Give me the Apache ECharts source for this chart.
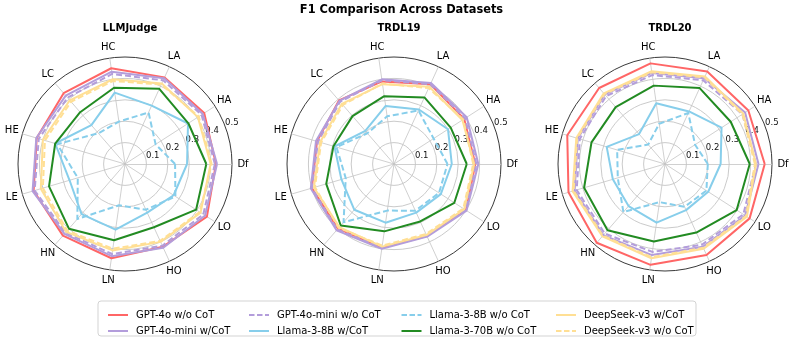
<!DOCTYPE html>
<html>
<head>
<meta charset="utf-8">
<script src="https://cdn.jsdelivr.net/npm/echarts@6/dist/echarts.min.js"></script>
<style>
  html, body { margin: 0; padding: 0; background: #fff; }
  #chart { width: 793px; height: 338px; }
</style>
</head>
<body>
<div id="chart"></div>
<script>
// axes in counter-clockwise order starting from the right (0 deg)
const categories = ['Df', 'HA', 'LA', 'HC', 'LC', 'HE', 'LE', 'HN', 'LN', 'HO', 'LO']
const models = [
  'GPT-4o w/o CoT', 'GPT-4o-mini w/CoT', 'GPT-4o-mini w/o CoT', 'Llama-3-8B w/CoT',
  'Llama-3-8B w/o CoT', 'Llama-3-70B w/o CoT', 'DeepSeek-v3 w/CoT', 'DeepSeek-v3 w/o CoT'
]
const datasets = ['LLMJudge', 'TRDL19', 'TRDL20']
const radialTicks = [0.1, 0.2, 0.3, 0.4, 0.5]

// one row per model, same order as `models`, values follow `categories`
const llmJudgeScores = [
  [0.425, 0.44, 0.445, 0.452, 0.438, 0.43, 0.445, 0.443, 0.445, 0.425, 0.455],
  [0.43, 0.432, 0.44, 0.436, 0.423, 0.432, 0.45, 0.432, 0.435, 0.43, 0.445],
  [0.42, 0.425, 0.43, 0.425, 0.41, 0.42, 0.44, 0.425, 0.425, 0.42, 0.435],
  [0.29, 0.35, 0.30, 0.337, 0.24, 0.34, 0.27, 0.31, 0.31, 0.25, 0.27],
  [0.234, 0.17, 0.265, 0.20, 0.19, 0.33, 0.23, 0.34, 0.195, 0.235, 0.28],
  [0.38, 0.352, 0.386, 0.36, 0.32, 0.34, 0.37, 0.40, 0.36, 0.325, 0.395],
  [0.40, 0.405, 0.414, 0.40, 0.394, 0.40, 0.41, 0.42, 0.408, 0.40, 0.42],
  [0.405, 0.41, 0.408, 0.392, 0.385, 0.39, 0.40, 0.412, 0.40, 0.395, 0.415]
]
const trdl19Scores = [
  [0.38, 0.39, 0.41, 0.39, 0.393, 0.375, 0.40, 0.40, 0.395, 0.37, 0.40],
  [0.394, 0.404, 0.416, 0.40, 0.39, 0.38, 0.405, 0.41, 0.40, 0.373, 0.403],
  [0.385, 0.395, 0.41, 0.395, 0.385, 0.37, 0.40, 0.405, 0.395, 0.37, 0.398],
  [0.27, 0.30, 0.28, 0.274, 0.205, 0.29, 0.256, 0.283, 0.277, 0.25, 0.26],
  [0.25, 0.22, 0.275, 0.225, 0.19, 0.28, 0.235, 0.36, 0.22, 0.24, 0.25],
  [0.34, 0.315, 0.342, 0.32, 0.296, 0.295, 0.33, 0.38, 0.318, 0.295, 0.335],
  [0.375, 0.38, 0.397, 0.377, 0.372, 0.36, 0.39, 0.39, 0.39, 0.365, 0.39],
  [0.37, 0.385, 0.39, 0.38, 0.365, 0.355, 0.385, 0.395, 0.385, 0.36, 0.385]
]
const trdl20Scores = [
  [0.466, 0.463, 0.475, 0.475, 0.47, 0.476, 0.47, 0.487, 0.476, 0.467, 0.47],
  [0.437, 0.445, 0.44, 0.43, 0.43, 0.425, 0.44, 0.44, 0.43, 0.425, 0.445],
  [0.425, 0.43, 0.43, 0.42, 0.42, 0.415, 0.43, 0.43, 0.415, 0.415, 0.435],
  [0.26, 0.314, 0.27, 0.287, 0.185, 0.284, 0.254, 0.26, 0.277, 0.237, 0.24],
  [0.20, 0.167, 0.262, 0.19, 0.12, 0.233, 0.23, 0.297, 0.18, 0.22, 0.23],
  [0.396, 0.365, 0.39, 0.37, 0.352, 0.358, 0.394, 0.41, 0.366, 0.352, 0.398],
  [0.425, 0.435, 0.45, 0.438, 0.437, 0.432, 0.45, 0.447, 0.445, 0.435, 0.455],
  [0.42, 0.43, 0.445, 0.433, 0.432, 0.428, 0.445, 0.443, 0.44, 0.43, 0.45]
]
const allScores = [llmJudgeScores, trdl19Scores, trdl20Scores]

const colors = ['#ff6666', '#b39ddb', '#b39ddb', '#87ceeb', '#87ceeb', '#228b22', '#ffdf94', '#ffdf94']
const dashed = [false, false, true, false, true, false, false, true]

const FONT = 'DejaVu Sans'
const centersX = [125, 394, 665]
const centerY = 164
const R = 107

const solidIcon = 'path://M0,0H20V2H0Z'
const dashIcon = 'path://M0,0H5.5V2H0Z M8,0H13.5V2H8Z M16,0H20V2H16Z'

const radars = centersX.map(cx => ({
  center: [cx, centerY],
  radius: R,
  startAngle: 0,
  shape: 'circle',
  splitNumber: 5,
  indicator: categories.map(c => ({ name: c, min: 0, max: 0.5 })),
  axisName: { color: '#000', fontSize: 10, fontFamily: FONT, align: 'center', verticalAlign: 'middle' },
  nameGap: 11,
  splitArea: { show: false },
  axisLine: { lineStyle: { color: '#c4c4c4', width: 0.8 } },
  splitLine: { lineStyle: { color: ['#c4c4c4', '#c4c4c4', '#c4c4c4', '#c4c4c4', '#c4c4c4', '#222'], width: 0.9 } },
  axisTick: { show: false },
  axisLabel: { show: false }
}))

const series = allScores.map((scores, ri) => ({
  type: 'radar',
  radarIndex: ri,
  symbol: 'none',
  silent: true,
  data: scores.map((vals, mi) => ({
    name: models[mi],
    value: vals,
    itemStyle: { color: colors[mi] },
    lineStyle: { color: colors[mi], width: 2, type: dashed[mi] ? [6, 3] : 'solid' }
  }))
}))

// radial tick labels drawn by a transparent polar at 22.5 deg
const polar = centersX.map(cx => ({ center: [cx, centerY], radius: R }))
const angleAxis = centersX.map((cx, i) => ({
  polarIndex: i, type: 'value', min: 0, max: 360, startAngle: 22.5,
  axisLine: { show: false }, axisTick: { show: false }, axisLabel: { show: false }, splitLine: { show: false }
}))
const radiusAxis = centersX.map((cx, i) => ({
  polarIndex: i, type: 'value', min: 0, max: 0.5, interval: 0.1,
  axisLine: { show: false }, axisTick: { show: false }, splitLine: { show: false },
  axisLabel: {
    show: true, margin: 0, fontSize: 8.5, fontFamily: FONT, color: '#111',
    align: 'center', verticalAlign: 'middle', padding: [0, 0, 7, 16],
    formatter: v => radialTicks.some(t => Math.abs(t - v) < 1e-9) ? v.toFixed(1) : ''
  }
}))

// matplotlib-like legend: 4 columns x 2 rows, filled column by column
const legendLeft = [103, 244, 396.5, 551]
const legendTop = [304, 320]
const legend = models.map((m, mi) => ({
  orient: 'vertical',
  left: legendLeft[Math.floor(mi / 2)],
  top: legendTop[mi % 2],
  itemWidth: 20,
  itemHeight: 2,
  selectedMode: false,
  itemStyle: { borderWidth: 0 },
  textStyle: { fontSize: 10, fontFamily: FONT, color: '#000', lineHeight: 12, padding: [0, 0, 0, 3] },
  data: [{ name: m, icon: dashed[mi] ? dashIcon : solidIcon }]
}))

const title = [{
  text: 'F1 Comparison Across Datasets',
  left: 396.5, textAlign: 'center', top: 0,
  textStyle: { fontSize: 11.4, fontWeight: 'bold', fontFamily: FONT, color: '#000' }
}].concat(datasets.map((d, i) => ({
  text: d,
  left: centersX[i], textAlign: 'center', top: 18,
  textStyle: { fontSize: 10, fontWeight: 'bold', fontFamily: FONT, color: '#000' }
})))

const option = {
  animation: false,
  backgroundColor: '#fff',
  title: title,
  legend: legend,
  radar: radars,
  polar: polar,
  angleAxis: angleAxis,
  radiusAxis: radiusAxis,
  graphic: [{
    type: 'rect', z: -1,
    shape: { x: 98, y: 301, width: 598, height: 35, r: 3 },
    style: { fill: '#fff', stroke: '#d3d3d3', lineWidth: 1 }
  }],
  series: series
}

const chart = echarts.init(document.getElementById('chart'))
chart.setOption(option)
</script>
</body>
</html>
